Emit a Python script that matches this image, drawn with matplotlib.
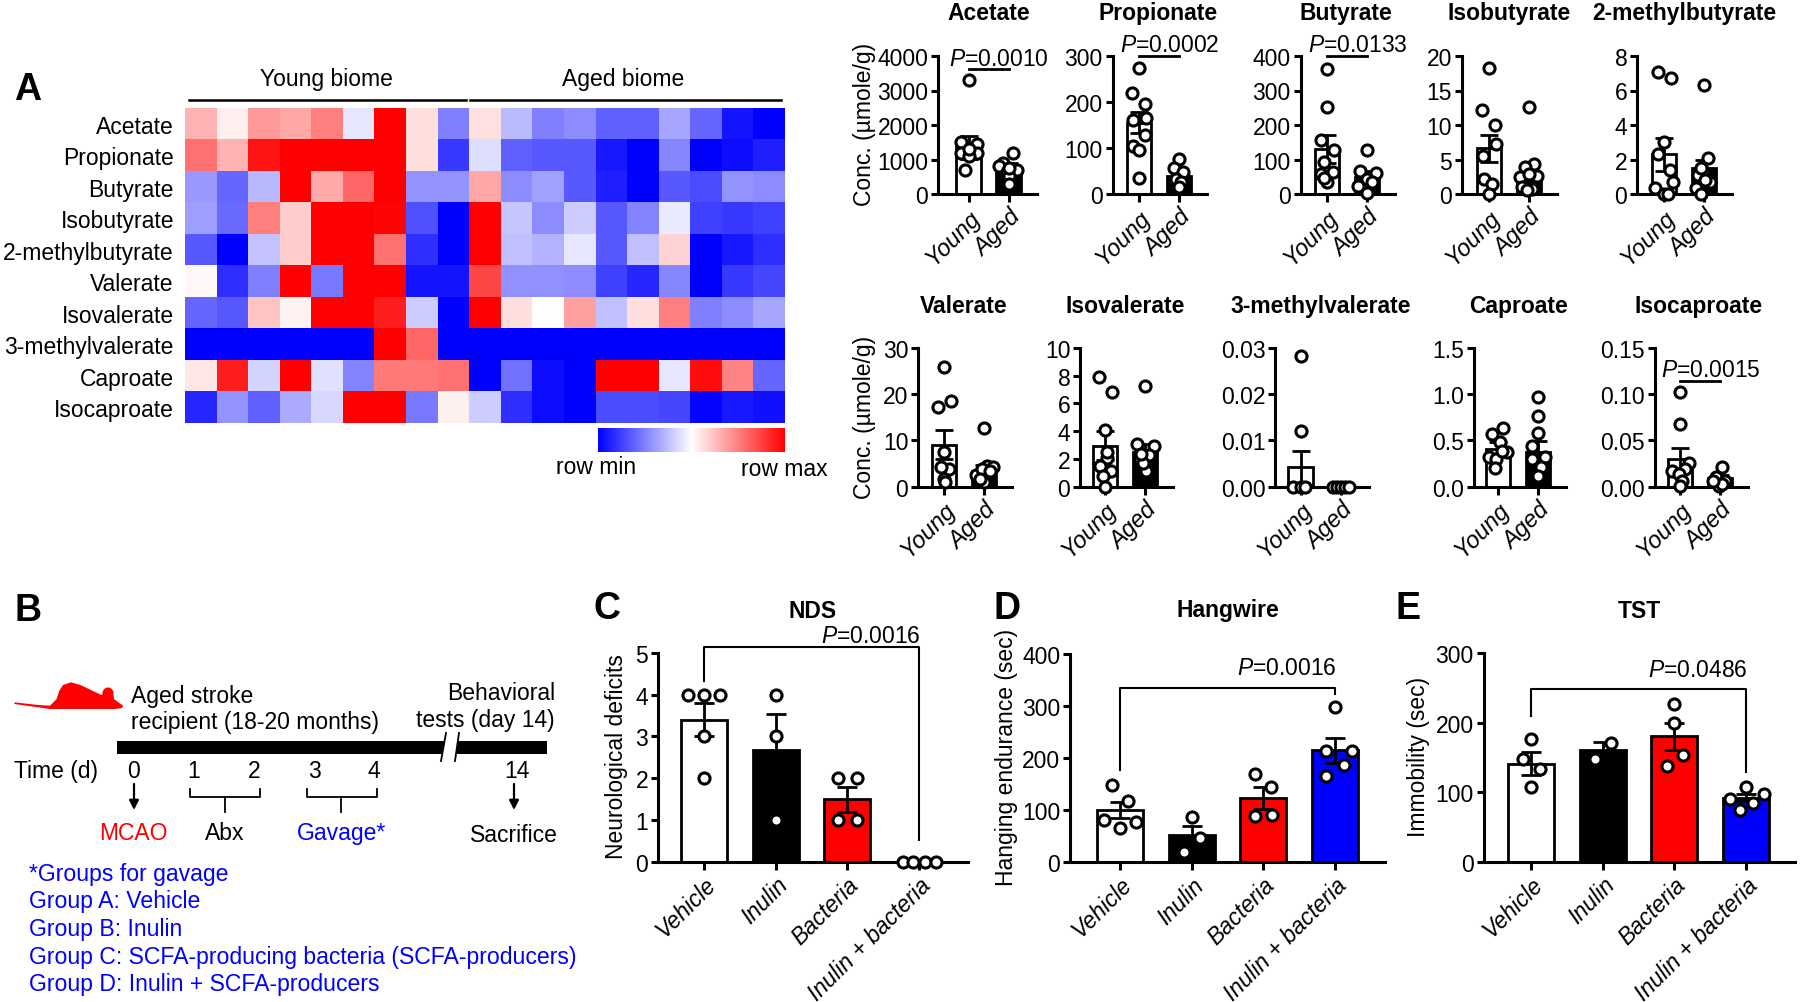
#Recreate the SCFA figure: heatmap, small bar panels, timeline and behaviour bars

import matplotlib
matplotlib.use('Agg')
import matplotlib.pyplot as plt
from matplotlib.cm import ScalarMappable
from matplotlib.colors import TwoSlopeNorm
from matplotlib.patches import Ellipse, Polygon, Rectangle
import numpy as np

plt.rcParams['font.family'] = ['Liberation Sans', 'DejaVu Sans']
plt.rcParams['mathtext.fontset'] = 'custom'
plt.rcParams['mathtext.it'] = 'Liberation Sans:italic'
plt.rcParams['mathtext.rm'] = 'Liberation Sans'

W, H = 1800, 1003
fs = 16.5

# panel A heatmap, row scaled
metabolites = ['Acetate', 'Propionate', 'Butyrate', 'Isobutyrate', '2-methylbutyrate',
               'Valerate', 'Isovalerate', '3-methylvalerate', 'Caproate', 'Isocaproate']
heat_acetate = [.3, .07, .4, .35, .5, -.1, 1, .13, -.5, .12, -.27, -.5, -.45, -.62, -.62, -.35, -.6, -.92, -1]
heat_propionate = [.55, .3, .92, 1, 1, 1, 1, .13, -.78, -.13, -.62, -.65, -.65, -.9, -1, -.47, -1, -.95, -.87]
heat_butyrate = [-.4, -.6, -.28, 1, .33, .6, 1, -.42, -.42, .35, -.45, -.37, -.65, -.88, -1, -.65, -.7, -.42, -.45]
heat_isobutyrate = [-.38, -.58, .5, .2, 1, 1, .98, -.68, -1, 1, -.22, -.45, -.2, -.65, -.48, -.08, -.75, -.78, -.75]
heat_2mb = [-.65, -1, -.23, .2, 1, 1, .55, -.82, -1, 1, -.25, -.3, -.1, -.65, -.25, .17, -1, -.9, -.82]
heat_valerate = [.03, -.82, -.5, 1, -.53, 1, 1, -.92, -.92, .72, -.43, -.43, -.45, -.75, -.85, -.47, -1, -.78, -.72]
heat_isovalerate = [-.6, -.65, .23, .05, 1, 1, .88, -.2, -1, 1, .13, 0, .37, -.25, .13, .5, -.5, -.45, -.35]
heat_3mv = [-1, -1, -1, -1, -1, -1, 1, .6, -1, -1, -1, -1, -1, -1, -1, -1, -1, -1, -1]
heat_caproate = [.1, .88, -.17, 1, -.12, -.48, .52, .52, .55, -1, -.55, -.95, -1, 1, 1, -.1, .95, .48, -.6]
heat_isocaproate = [-.85, -.42, -.62, -.33, -.15, 1, 1, -.52, .06, -.2, -.82, -.95, -1, -.7, -.7, -.72, -.98, -.9, -.93]
heat_rows = [heat_acetate, heat_propionate, heat_butyrate, heat_isobutyrate, heat_2mb,
             heat_valerate, heat_isovalerate, heat_3mv, heat_caproate, heat_isocaproate]

# panel A bars, same order as metabolites
young_means = [1350, 155, 130, 6.6, 2.3, 9.1, 2.95, .0043, .41, .03]
young_sems = [340, 23, 40, 2.0, .95, 3.1, 1.05, .0035, .07, .012]
aged_means = [720, 40, 50, 3, 1.5, 3.5, 2.5, 0, .38, .009]
aged_sems = [170, 12, 17, 1.2, .5, 1.2, .55, 0, .11, .004]

young_points = [[3300, 1520, 1450, 1200, 1200, 700, 1100, 1300],
                [275, 220, 195, 160, 165, 128, 105, 95, 35],
                [363, 252, 157, 127, 92, 58, 63, 34, 45],
                [18.2, 12.2, 10, 7.2, 5.5, 2.2, 1.4, 0],
                [7.05, 6.7, 3, 2.3, 1.4, .7, .35, 0, 0],
                [25.8, 18.6, 17.2, 7.4, 3.8, 1.7, 1.1, 4.2],
                [7.9, 6.85, 4.1, 2.1, 1.5, 1.15, .8, 0, 2.5],
                [.0283, .0121, 0, 0, 0],
                [.63, .57, .48, .37, .32, .3, .2, .39],
                [.102, .068, .026, .017, .019, .014, .006, .001]]
aged_points = [[1180, 900, 800, 700, 650, 530, 300, 750],
               [76, 56, 47, 33, 27, 15],
               [127, 67, 60, 44, 34, 24, 4],
               [12.6, 4.3, 3.9, 2.6, 2.4, 2.9, 1, .7, .6],
               [6.3, 2.1, 1.35, 1.1, .7, .35, 0, .8, 1.5],
               [12.6, 4.5, 4.2, 2.6, 3.8, 1, 1.7, 3.5],
               [7.25, 3.1, 2.9, 2.3, 2, 1.15, 1.7, 2.35],
               [0, 0, 0, 0, 0],
               [.97, .77, .58, .44, .32, .21, .3, .12],
               [.021, .01, .0065, .001, .003, .0065]]

# sideways scatter of the dots, in units of one category
young_jitter = [[0, -.2, .2, -.2, .2, -.08, 0, 0],
                [0, -.17, .15, -.15, .18, .14, -.15, 0, 0],
                [0, 0, -.15, .17, -.08, -.15, .15, 0, -.08],
                [0, -.18, .15, .18, -.15, -.12, .08, 0],
                [-.15, .17, 0, -.15, .15, .23, -.23, 0, .1],
                [0, .18, -.15, 0, .12, 0, .03, -.08],
                [-.15, .18, 0, .06, -.12, .14, -.05, 0, .06],
                [0, 0, -.18, 0, .12],
                [.12, -.15, .05, .23, -.23, -.05, -.08, .1],
                [0, 0, .23, -.2, .12, -.03, .05, 0]]
aged_jitter = [[.1, -.15, -.25, .2, -.05, 0, 0, 0],
               [0, -.12, .1, -.08, .06, 0],
               [0, -.18, .23, 0, .12, -.23, 0],
               [0, .12, -.1, .2, -.23, 0, -.18, .08, -.05],
               [0, .1, -.03, -.15, .15, -.2, -.08, .03, -.08],
               [0, .08, .23, -.2, -.05, 0, -.1, .15],
               [0, -.2, .23, .1, -.12, .03, -.05, -.1],
               [-.2, -.1, 0, .1, .2],
               [0, 0, 0, -.15, .18, .08, -.15, 0],
               [.05, -.1, .12, -.03, .05, -.18]]

top_ticks = [[0, 1000, 2000, 3000, 4000], [0, 100, 200, 300], [0, 100, 200, 300, 400],
             [0, 5, 10, 15, 20], [0, 2, 4, 6, 8], [0, 10, 20, 30], [0, 2, 4, 6, 8, 10],
             [0, .01, .02, .03], [0, .5, 1.0, 1.5], [0, .05, .10, .15]]
top_formats = ['{:.0f}'] * 7 + ['{:.2f}', '{:.1f}', '{:.2f}']
p_labels = {0: 'P=0.0010', 1: 'P=0.0002', 2: 'P=0.0133', 9: 'P=0.0015'}

# panels C, D, E
groups = ['Vehicle', 'Inulin', 'Bacteria', 'Inulin + bacteria']
group_colors = ['white', 'black', 'red', 'blue']

nds_means = [3.4, 2.67, 1.5, 0]
nds_sems = [.4, .88, .3, 0]
nds_points = [[4, 4, 4, 3, 2], [4, 3, 1], [2, 2, 1, 1], [0, 0, 0, 0]]
nds_jitter = [[-.22, 0, .23, 0, 0], [0, 0, 0], [-.13, .13, -.13, .13], [-.23, -.08, .08, .23]]

hang_means = [100, 51, 123, 215]
hang_sems = [16, 19, 21, 24]
hang_points = [[148, 118, 76, 81, 65], [86, 46, 20], [169, 144, 88, 91], [298, 213, 213, 186, 165]]
hang_jitter = [[-.11, .11, .22, -.22, 0], [0, .12, -.11], [-.12, .11, -.12, .12], [0, .24, -.12, .13, -.12]]

tst_means = [141, 160, 180, 92]
tst_sems = [16, 12, 20, 5]
tst_points = [[177, 148, 133, 108], [171, 148], [227, 199, 154, 138], [108, 98, 90, 84, 75]]
tst_jitter = [[0, -.11, .12, 0], [.11, -.11], [0, 0, .12, -.11], [0, .25, -.22, .09, -.08]]

# axes boxes in pixels: spine x, right end, first bar, bar spacing
top_left = [938, 1112.5, 1300.5, 1461.5, 1637, 918, 1080, 1275, 1474, 1654.5]
top_first = [968.6, 1139, 1327, 1489, 1664, 944, 1105, 1300.5, 1498, 1680]
top_titles_x = [989, 1158, 1346, 1509, 1684, 964, 1125, 1321, 1518, 1699]


def px_axes(fig, left, right, top, bottom, first, step):
    """open an axes from pixel edges, with bars at 0,1,.. on the given pixels"""
    ax = fig.add_axes([left / W, 1 - bottom / H, (right - left) / W, (bottom - top) / H])
    ax.set_xlim((left - first) / step, (right - first) / step)
    ax.patch.set_visible(False)
    for side in ['top', 'right']:
        ax.spines[side].set_visible(False)
    for side in ['left', 'bottom']:
        ax.spines[side].set_linewidth(2.2)
    ax.tick_params(axis='both', width=2.2, length=5, labelsize=fs, pad=2)
    ax.tick_params(axis='x', length=6)
    return ax


def draw_bars(ax, means, sems, colors, points, jitter, width, capsize):
    """bars with sem whiskers and open dots on top"""
    xs = np.arange(len(means))
    ax.bar(xs, means, width=width, color=colors, edgecolor='black', linewidth=2, zorder=2)
    for x, m, s in zip(xs, means, sems):
        if s > 0:
            ax.errorbar(x, m, yerr=s, color='black', elinewidth=2, capsize=capsize,
                        capthick=2, zorder=3)
    for x, pts, jit in zip(xs, points, jitter):
        ax.plot(x + np.array(jit), pts, 'o', mfc='white', mec='black', mew=2.2, ms=8,
                clip_on=False, zorder=4, linestyle='none')


def x_labels(ax, labels, size):
    ax.set_xticks(np.arange(len(labels)))
    ax.set_xticklabels(labels, rotation=45, ha='right', va='top', rotation_mode='anchor',
                       style='italic', fontsize=size)


def p_text(label):
    return r'$\mathit{P}$=' + label.split('=')[1]


fig = plt.figure(figsize=(W / 100, H / 100), dpi=100)
fig.patch.set_facecolor('white')

# overlay in image pixels for labels and the timeline schematic
ov = fig.add_axes([0, 0, 1, 1], zorder=10)
ov.set_xlim(0, W)
ov.set_ylim(H, 0)
ov.axis('off')
ov.patch.set_visible(False)

# panel letters
for letter, lx, ly in [('A', 28, 90), ('B', 28, 611), ('C', 607, 609), ('D', 1007, 609), ('E', 1408, 609)]:
    ov.text(lx, ly, letter, fontsize=27, fontweight='bold', ha='center', va='center')

# heatmap
heat_norm = TwoSlopeNorm(vmin=-1, vcenter=-.14, vmax=1)
ax_heat = fig.add_axes([185 / W, 1 - 424 / H, 600 / W, 315 / H])
ax_heat.imshow(np.array(heat_rows), cmap='bwr', vmin=-1, vmax=1, aspect='auto', interpolation='nearest')
ax_heat.set_xticks([])
ax_heat.set_yticks(np.arange(len(metabolites)))
ax_heat.set_yticklabels(metabolites, fontsize=fs)
ax_heat.tick_params(axis='y', length=0, pad=8)
for spine in ax_heat.spines.values():
    spine.set_visible(False)

ov.plot([189, 466], [100.5, 100.5], color='black', lw=1.8)
ov.plot([470, 781], [100.5, 100.5], color='black', lw=1.8)
ov.text(326, 79, 'Young biome', fontsize=fs, ha='center', va='center')
ov.text(623, 79, 'Aged biome', fontsize=fs, ha='center', va='center')

cax = fig.add_axes([598 / W, 1 - 453 / H, 187 / W, 24 / H])
cbar = fig.colorbar(ScalarMappable(norm=heat_norm, cmap='bwr'), cax=cax, orientation='horizontal')
cbar.set_ticks([])
cbar.outline.set_visible(False)
ov.text(596, 468, 'row min', fontsize=fs, ha='center', va='center')
ov.text(784, 470, 'row max', fontsize=fs, ha='center', va='center')

# small young vs aged panels
for i, name in enumerate(metabolites):
    top, bottom, title_y = (57, 195, 13) if i < 5 else (349, 487.7, 306)
    left = top_left[i]
    first = top_first[i]
    ax = px_axes(fig, left, first + 40 + 28, top, bottom, first, 40)
    draw_bars(ax, [young_means[i], aged_means[i]], [young_sems[i], aged_sems[i]],
              ['white', 'black'], [young_points[i], aged_points[i]],
              [young_jitter[i], aged_jitter[i]], .62, 6.5)
    ticks = top_ticks[i]
    ax.set_ylim(0, ticks[-1])
    ax.set_yticks(ticks)
    ax.set_yticklabels([top_formats[i].format(t) for t in ticks])
    x_labels(ax, ['Young', 'Aged'], 17)
    ov.text(top_titles_x[i], title_y, name, fontsize=fs, fontweight='bold', ha='center', va='center')
    if i in p_labels:
        # bracket height and label position relative to the y range
        line_y = {0: .904, 1: 1.0, 2: 1.0, 9: .764}[i] * ticks[-1]
        text_y = line_y + .08 * ticks[-1]
        ax.plot([0, 1], [line_y, line_y], color='black', lw=2, clip_on=False, zorder=5)
        ax.text(.76, text_y, p_text(p_labels[i]), fontsize=fs, ha='center', va='center', clip_on=False)

ov.text(865, 124, 'Conc. (µmole/g)', fontsize=fs, rotation=90, ha='center', va='center')
ov.text(865, 417, 'Conc. (µmole/g)', fontsize=fs, rotation=90, ha='center', va='center')

# panel B timeline
mouse_x = [14.5, 38, 50, 56.6, 59.3, 63, 71, 80.4, 101.4, 104, 113.5, 114, 118, 123.2, 122, 115, 50, 38, 14.5]
mouse_y = [703.3, 706, 706.7, 700, 691.7, 686, 683.3, 686, 696, 694, 696, 700, 703, 706.7, 709, 710, 710, 708.3, 705]
ov.add_patch(Polygon(np.column_stack([mouse_x, mouse_y]), closed=True, color='red', lw=0))
ov.add_patch(Ellipse((108, 694), 11, 11, color='red', lw=0))
ov.text(131, 696, 'Aged stroke', fontsize=fs, ha='left', va='center')
ov.text(131, 723, 'recipient (18-20 months)', fontsize=fs, ha='left', va='center')
ov.text(555, 694, 'Behavioral', fontsize=fs, ha='right', va='center')
ov.text(555, 721, 'tests (day 14)', fontsize=fs, ha='right', va='center')

ov.add_patch(Rectangle((117, 742), 430, 13, color='black', lw=0))
ov.add_patch(Polygon([[446, 735], [459, 735], [455, 761], [441, 761]], closed=True, color='white', lw=0, zorder=3))
ov.plot([446, 441], [734, 762], color='black', lw=1.3, zorder=4)
ov.plot([459, 455], [734, 762], color='black', lw=1.3, zorder=4)

ov.text(14, 772, 'Time (d)', fontsize=fs, ha='left', va='center')
time_labels = ['0', '1', '2', '3', '4', '14']
time_px = [134, 194, 254.5, 314, 373.5, 516.6]
for lab, tx in zip(time_labels, time_px):
    ov.text(tx, 772, lab, fontsize=fs, ha='center', va='center')

for ax_x in [134, 514]:
    ov.annotate('', xy=(ax_x, 811), xytext=(ax_x, 785),
                arrowprops=dict(arrowstyle='-|>', color='black', lw=1.6, mutation_scale=14, shrinkA=0, shrinkB=0))
for x0, x1, xm in [(190, 260, 225), (307, 377, 341)]:
    ov.plot([x0, x0, x1, x1], [790, 798, 798, 790], color='black', lw=1.3)
    ov.plot([xm, xm], [798, 813], color='black', lw=1.3)

ov.text(133, 834, 'MCAO', color='red', fontsize=fs, ha='center', va='center')
ov.text(225, 834, 'Abx', color='black', fontsize=fs, ha='center', va='center')
ov.text(341, 834, 'Gavage*', color='blue', fontsize=fs, ha='center', va='center')
ov.text(514, 836, 'Sacrifice', color='black', fontsize=fs, ha='center', va='center')

group_lines = ['*Groups for gavage', 'Group A: Vehicle', 'Group B: Inulin',
               'Group C: SCFA-producing bacteria (SCFA-producers)', 'Group D: Inulin + SCFA-producers']
group_y = [874.5, 901.5, 929.5, 957.5, 985]
for line, gy in zip(group_lines, group_y):
    ov.text(28.7, gy, line, color='blue', fontsize=16.6, ha='left', va='center')

# panels C, D, E
behaviour = [('NDS', 813, 'Neurological deficits', 617, 658, 968, 654, 862.7, 704,
              nds_means, nds_sems, nds_points, nds_jitter, [0, 1, 2, 3, 4, 5],
              'P=0.0016', 5.14, 4.33, .52, 5.41, 2.32),
             ('Hangwire', 1228, 'Hanging endurance (sec)', 1006, 1070, 1385, 655, 863, 1120,
              hang_means, hang_sems, hang_points, hang_jitter, [0, 100, 200, 300, 400],
              'P=0.0016', 335, 177, 323, 374, 2.32),
             ('TST', 1639.5, 'Immobility (sec)', 1418, 1483.5, 1795, 654, 862.7, 1531,
              tst_means, tst_sems, tst_points, tst_jitter, [0, 100, 200, 300],
              'P=0.0486', 248, 209, 129, 277, 2.32)]
for (title, title_x, ylab, ylab_x, left, right, top, bottom, first, means, sems, points, jitter,
     ticks, plab, br_y, br_l, br_r, txt_y, txt_x) in behaviour:
    ax = px_axes(fig, left, right, top, bottom, first, 71.7)
    draw_bars(ax, means, sems, group_colors, points, jitter, .64, 7.5)
    ax.set_ylim(0, ticks[-1])
    ax.set_yticks(ticks)
    x_labels(ax, groups, fs)
    ax.plot([0, 0, 3, 3], [br_l, br_y, br_y, br_r], color='black', lw=1.5, clip_on=False, zorder=5)
    ax.text(txt_x, txt_y, p_text(plab), fontsize=fs, ha='center', va='center', clip_on=False)
    ov.text(title_x, 611, title, fontsize=fs, fontweight='bold', ha='center', va='center')
    ov.text(ylab_x, 757, ylab, fontsize=fs, rotation=90, ha='center', va='center')

plt.savefig('out.png', dpi=100)
